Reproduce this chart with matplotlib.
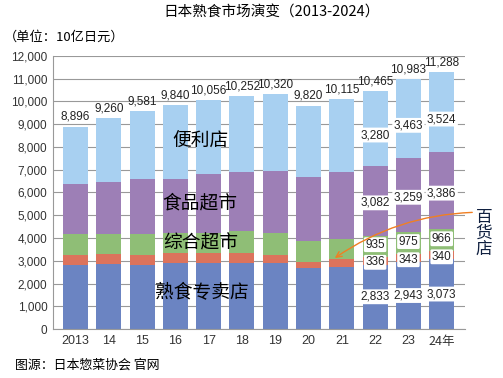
import matplotlib
matplotlib.use('Agg')
import matplotlib.pyplot as plt
import numpy as np

plt.rcParams['font.family'] = ['Noto Sans CJK SC', 'DejaVu Sans']

# data (10亿日元)
years = ['2013', '14', '15', '16', '17', '18', '19', '20', '21', '22', '23', '24年']
totals = [8896, 9260, 9581, 9840, 10056, 10252, 10320, 9820, 10115, 10465, 10983, 11288]
deli_shop = [2813, 2843, 2813, 2916, 2916, 2916, 2886, 2667, 2740, 2833, 2943, 3073]   # 熟食专卖店
dept_store = [440, 439, 440, 410, 410, 439, 367, 293, 337, 336, 343, 340]              # 百货店
gms = [908, 879, 908, 879, 908, 953, 952, 923, 864, 935, 975, 966]                     # 综合超市
food_super = [2213, 2315, 2432, 2388, 2579, 2607, 2740, 2784, 2975, 3082, 3259, 3386]  # 食品超市
conv_store = [2522, 2784, 2988, 3247, 3243, 3337, 3375, 3153, 3199, 3280, 3463, 3524]  # 便利店

colors = ['#6b84c2', '#dc735c', '#8fbe76', '#9d7fb6', '#a8d0f1']
series = [deli_shop, dept_store, gms, food_super, conv_store]
label_shift = [0, -70, 70, -100, -300]

fig = plt.figure(figsize=(5.03, 3.78), dpi=100)
ax = fig.add_axes([0.1054, 0.1296, 0.8191, 0.7223])

x = np.arange(len(years))
bottom = np.zeros(len(years))
for vals, c, sh in zip(series, colors, label_shift):
    ax.bar(x, vals, width=0.75, bottom=bottom, color=c, zorder=2)
    # value labels for the last three years
    for i in range(9, 12):
        ax.text(x[i], bottom[i] + vals[i] / 2 + sh, f'{vals[i]:,}', ha='center', va='center',
                fontsize=8.5, family='Liberation Sans', color='#222222', zorder=4,
                bbox=dict(boxstyle='round,pad=0.12', fc='white', ec='none'))
    bottom += np.array(vals)

# totals on top
for i, t in enumerate(totals):
    ax.text(x[i], t + 160, f'{t:,}', ha='center', va='bottom', fontsize=8.5,
            family='Liberation Sans', color='#222222')

# segment names
ax.text(3.75, 8260, '便利店', ha='center', va='center', fontsize=13.5)
ax.text(3.75, 5560, '食品超市', ha='center', va='center', fontsize=13.5)
ax.text(3.75, 3780, '综合超市', ha='center', va='center', fontsize=13.5)
ax.text(3.8, 1604, '熟食专卖店', ha='center', va='center', fontsize=13.5)

# 百货店 callout
ax.text(12.27, 4200, '百\n货\n店', ha='center', va='center', fontsize=12,
        color='#102040', linespacing=0.95, clip_on=False)
ax.annotate('', xy=(7.72, 3050), xytext=(12.0, 5130),
            arrowprops=dict(arrowstyle='->', color='#f07f22', lw=1,
                            connectionstyle='arc3,rad=0.15'),
            annotation_clip=False, zorder=5)

ax.set_xlim(-0.675, 11.7)
ax.set_ylim(0, 12000)
ax.set_yticks(range(0, 12001, 1000))
ax.set_yticklabels([f'{v:,}' for v in range(0, 12001, 1000)], family='Liberation Sans',
                   fontsize=8.5, color='#333333')
ax.set_xticks(x)
ax.set_xticklabels(years, fontsize=9, color='#333333')
for lbl in ax.get_xticklabels()[:-1]:
    lbl.set_family('Liberation Sans')
ax.tick_params(length=0, pad=4)
ax.grid(axis='y', color='#999999', lw=0.8, zorder=1)
for s in ['top', 'right']:
    ax.spines[s].set_visible(False)
ax.spines['left'].set_color('#999999')
ax.spines['bottom'].set_color('#999999')

fig.text(0.539, 0.968, '日本熟食市场演变（2013-2024）', ha='center', va='center', fontsize=10.5)
fig.text(0.008, 0.902, '（单位：10亿日元）', ha='left', va='center', fontsize=9.5)
fig.text(0.03, 0.034, '图源：日本惣菜协会 官网', ha='left', va='center', fontsize=9.3)

fig.savefig('out.png', dpi=100)
